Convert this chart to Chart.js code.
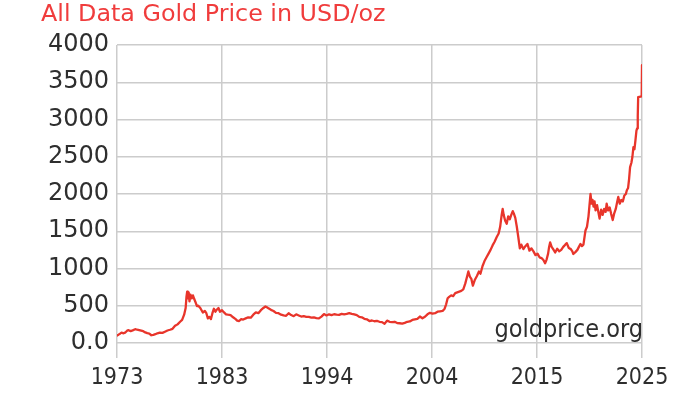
<!DOCTYPE html>
<html>
<head>
<meta charset="utf-8">
<script src="https://cdn.jsdelivr.net/npm/chart.js@4"></script>
<style>
  html, body { margin: 0; padding: 0; background: #ffffff; }
  #wrap { width: 698px; height: 396px; position: relative; }
</style>
</head>
<body>
<div id="wrap"><canvas id="c" width="698" height="396"></canvas></div>
<script>
const chartTitle = 'All Data Gold Price in USD/oz';
const watermark = 'goldprice.org';

const years = [
  1973.00, 1973.15, 1973.30, 1973.45, 1973.60, 1973.80,
  1974.00, 1974.15, 1974.35, 1974.55, 1974.80,
  1975.00, 1975.20, 1975.40, 1975.60, 1975.80,
  1976.00, 1976.20, 1976.40, 1976.60, 1976.80,
  1977.00, 1977.25, 1977.50, 1977.75,
  1978.00, 1978.25, 1978.50, 1978.75,
  1979.00, 1979.25, 1979.45, 1979.65, 1979.80, 1979.88, 1979.95,
  1980.02, 1980.10, 1980.18, 1980.28, 1980.40, 1980.52, 1980.65, 1980.80, 1980.92,
  1981.05, 1981.25, 1981.50, 1981.70, 1981.85,
  1982.00, 1982.15, 1982.30, 1982.45, 1982.60, 1982.75, 1982.90,
  1983.05, 1983.20, 1983.40, 1983.60, 1983.80,
  1984.00, 1984.25, 1984.50, 1984.75, 1984.90,
  1985.10, 1985.30, 1985.50, 1985.75,
  1986.00, 1986.25, 1986.50, 1986.75,
  1987.00, 1987.25, 1987.50, 1987.70, 1987.85,
  1988.00, 1988.25, 1988.50, 1988.75,
  1989.00, 1989.25, 1989.50, 1989.75,
  1990.00, 1990.25, 1990.50, 1990.75,
  1991.00, 1991.25, 1991.50, 1991.75,
  1992.00, 1992.25, 1992.50, 1992.75,
  1993.00, 1993.25, 1993.50, 1993.75,
  1994.00, 1994.25, 1994.50, 1994.75,
  1995.00, 1995.25, 1995.50, 1995.75,
  1996.00, 1996.25, 1996.50, 1996.75,
  1997.00, 1997.25, 1997.50, 1997.75,
  1998.00, 1998.25, 1998.50, 1998.75,
  1999.00, 1999.25, 1999.50, 1999.75,
  2000.00, 2000.25, 2000.50, 2000.75,
  2001.00, 2001.25, 2001.50, 2001.75,
  2002.00, 2002.25, 2002.50, 2002.75,
  2003.00, 2003.25, 2003.50, 2003.75,
  2004.00, 2004.25, 2004.50, 2004.75,
  2005.00, 2005.25, 2005.45, 2005.60, 2005.75, 2005.90,
  2006.10, 2006.30, 2006.50, 2006.70, 2006.90,
  2007.10, 2007.30, 2007.50, 2007.65, 2007.80, 2007.95,
  2008.10, 2008.25, 2008.45, 2008.65, 2008.85,
  2009.00, 2009.20, 2009.40, 2009.60, 2009.80,
  2010.00, 2010.20, 2010.40, 2010.60, 2010.80, 2010.95,
  2011.10, 2011.20, 2011.30, 2011.45, 2011.60, 2011.75, 2011.90,
  2012.05, 2012.20, 2012.30, 2012.45, 2012.60, 2012.75, 2012.90,
  2013.05, 2013.25, 2013.45, 2013.65, 2013.85,
  2014.05, 2014.25, 2014.45, 2014.65, 2014.85,
  2015.05, 2015.25, 2015.40, 2015.55, 2015.70, 2015.80, 2015.90,
  2016.05, 2016.20, 2016.40, 2016.60, 2016.80,
  2017.00, 2017.20, 2017.40, 2017.55, 2017.75, 2017.95,
  2018.10, 2018.20, 2018.40, 2018.60, 2018.75, 2018.90,
  2019.05, 2019.20, 2019.40, 2019.55, 2019.70, 2019.80, 2019.90,
  2020.00, 2020.10, 2020.20, 2020.30, 2020.40, 2020.55, 2020.70, 2020.80, 2020.95,
  2021.10, 2021.25, 2021.40, 2021.50, 2021.65, 2021.80, 2021.95,
  2022.10, 2022.25, 2022.40, 2022.55, 2022.65, 2022.80, 2022.95,
  2023.10, 2023.25, 2023.40, 2023.50, 2023.62, 2023.72, 2023.82, 2023.95,
  2024.05, 2024.15, 2024.25, 2024.35, 2024.45, 2024.52, 2024.58, 2024.62, 2024.97,
  2025.00
];

const prices = [
  100, 112, 125, 140, 130, 138,
  165, 172, 160, 170, 185,
  178, 172, 165, 158, 142,
  132, 126, 104, 110, 118,
  130, 140, 136, 152,
  168, 178, 190, 230,
  250, 285, 310, 380, 470, 620, 690,
  600, 680, 560, 650, 600, 640, 590, 540, 495,
  500, 470, 410, 430, 400,
  330, 350, 320, 400, 460, 420, 450,
  470, 420, 440, 410, 385,
  380, 375, 345, 320, 300,
  295, 320, 315, 330,
  345, 340, 380, 410,
  400, 440, 470, 490, 480,
  465, 445, 430, 405,
  400, 380, 370, 365,
  400, 375, 360, 385,
  370, 355, 362, 352,
  350, 340, 345, 335,
  330, 355, 388, 370,
  385, 375, 386, 380,
  378, 390, 385, 392,
  402, 392, 385, 375,
  350, 345, 325, 318,
  295, 302, 292, 296,
  285, 280, 258, 300,
  285, 280, 285, 268,
  265, 260, 270, 285,
  290, 310, 318, 325,
  355, 332, 352, 385,
  405, 395, 400, 420,
  425, 430, 460, 520, 600, 620,
  640, 630, 670, 680, 690,
  700, 720, 800, 880, 960, 890,
  860, 770, 850, 900, 960,
  930, 1030, 1100, 1150, 1200,
  1250, 1310, 1360, 1420, 1470, 1560,
  1720, 1800, 1720, 1640, 1600, 1700, 1660,
  1720, 1770, 1740, 1680, 1560, 1420, 1270,
  1320, 1260, 1300, 1330, 1240,
  1270, 1230, 1180, 1200, 1150,
  1140, 1110, 1070, 1120, 1200, 1290, 1350,
  1290, 1260, 1215, 1265, 1230,
  1250, 1290, 1320, 1340, 1275, 1260,
  1230, 1195, 1220, 1250, 1290, 1330,
  1300, 1320, 1510, 1560, 1700, 1850, 2000,
  1870, 1920, 1830, 1900, 1780, 1850, 1740, 1670, 1790,
  1720, 1800, 1760, 1870, 1780, 1820, 1730,
  1650, 1740, 1800, 1900, 1960, 1870, 1920,
  1900, 1980, 2000, 2050, 2080, 2200, 2360, 2420,
  2500, 2630, 2600, 2720, 2850, 2880, 3050, 3300, 3310,
  3730
];

const xTickValues = [1973, 1983.4, 1993.8, 2004.2, 2014.6, 2025];
const xTickLabels = ['1973', '1983', '1994', '2004', '2015', '2025'];
const yTickValues = [0, 500, 1000, 1500, 2000, 2500, 3000, 3500, 4000];
const yTickLabels = ['0.0', '500', '1000', '1500', '2000', '2500', '3000', '3500', '4000'];

const points = years.map((yr, i) => ({ x: yr, y: prices[i] }));

const textPlugin = {
  id: 'textPlugin',
  afterDraw(chart) {
    const ctx = chart.ctx;
    const area = chart.chartArea;
    ctx.save();
    ctx.fillStyle = '#f03c3c';
    ctx.font = '23.8px "DejaVu Sans"';
    ctx.textAlign = 'left';
    ctx.textBaseline = 'alphabetic';
    ctx.fillText(chartTitle, 41, 21);
    ctx.fillStyle = '#2e2e2e';
    ctx.font = '25px "DejaVu Sans Condensed"';
    ctx.textAlign = 'right';
    ctx.fillText(watermark, area.right + 1, 337);
    ctx.restore();
  }
};

new Chart(document.getElementById('c'), {
  type: 'line',
  data: {
    datasets: [{
      data: points,
      borderColor: '#e8352b',
      borderWidth: 2.3,
      borderJoinStyle: 'round',
      borderCapStyle: 'round',
      pointRadius: 0,
      tension: 0,
      fill: false
    }]
  },
  options: {
    responsive: false,
    animation: false,
    devicePixelRatio: 1,
    layout: { padding: { top: 45, right: 56, left: 0, bottom: 0 } },
    plugins: { legend: { display: false }, title: { display: false }, tooltip: { enabled: false } },
    scales: {
      x: {
        type: 'linear',
        min: 1973,
        max: 2025,
        afterBuildTicks(scale) { scale.ticks = xTickValues.map(v => ({ value: v })); },
        afterFit(scale) { scale.height = 53; },
        ticks: {
          color: '#2e2e2e',
          font: { family: 'DejaVu Sans Condensed', size: 23 },
          padding: 6,
          maxRotation: 0,
          autoSkip: false,
          callback(value, index) { return xTickLabels[index]; }
        },
        grid: { color: '#cccccc', lineWidth: 1.5, drawTicks: true, tickLength: 15, tickColor: '#cccccc' },
        border: { display: false }
      },
      y: {
        type: 'linear',
        min: 0,
        max: 4000,
        afterBuildTicks(scale) { scale.ticks = yTickValues.map(v => ({ value: v })); },
        afterFit(scale) { scale.width = 117; },
        ticks: {
          color: '#2e2e2e',
          font: { family: 'DejaVu Sans', size: 24 },
          padding: 8,
          autoSkip: false,
          callback(value, index) { return yTickLabels[index]; }
        },
        grid: { color: '#cccccc', lineWidth: 1.5, drawTicks: false },
        border: { display: false }
      }
    }
  },
  plugins: [textPlugin]
});
</script>
</body>
</html>
